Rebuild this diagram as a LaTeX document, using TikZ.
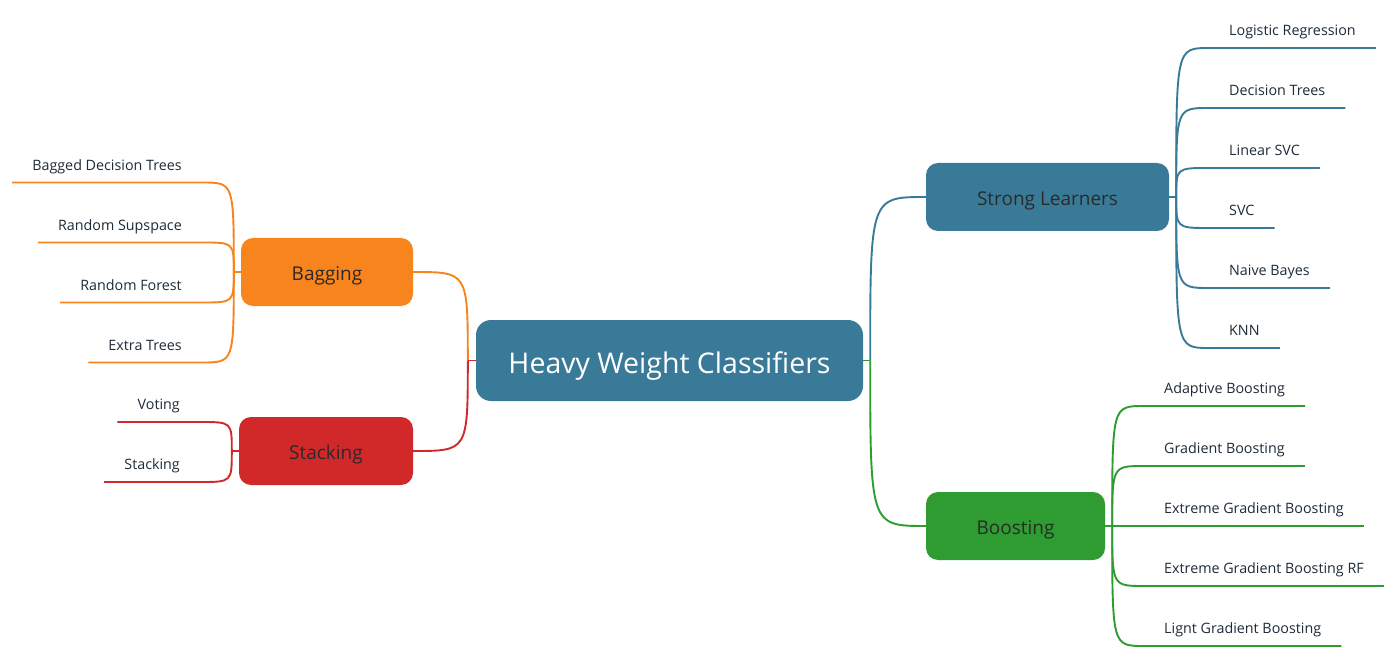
\documentclass[tikz,border=0pt]{standalone}
\usepackage{fontspec}
\setmainfont{Open Sans}
\usetikzlibrary{positioning,calc}

\definecolor{hwblue}{HTML}{3A7A99}
\definecolor{hworange}{HTML}{F7841D}
\definecolor{hwred}{HTML}{D1282A}
\definecolor{hwgreen}{HTML}{2E9C31}
\definecolor{leaftext}{HTML}{1E2B38}
\definecolor{branchtext}{HTML}{2A2A2A}

\tikzset{
    branch/.style={rounded corners=12pt, minimum height=68pt, text=branchtext,
        text height=21.5pt, text depth=4pt, font=\fontsize{19}{22}\selectfont},
    leaf/.style={inner xsep=20pt, inner ysep=9pt, text height=10.5pt, text depth=3pt,
        text=leaftext, font=\fontsize{14.3}{17}\selectfont},
    link/.style={line width=1.9pt}
}

\begin{document}
\begin{tikzpicture}[x=1pt, y=-1pt]
    \fill[white] (0,0) rectangle (1400,663);
    \useasboundingbox (0,0) rectangle (1400,663);

    % main nodes
    \node[fill=hwblue, rounded corners=15pt, minimum width=387pt, minimum height=81pt,
        text height=28pt, text depth=3pt,
        text=white, font=\fontsize{28.5}{32}\selectfont] (hwc) at (669.5,360.5) {Heavy Weight Classifiers};
    \node[branch, fill=hwblue, minimum width=243pt] (strong) at (1047.5,197) {Strong Learners};
    \node[branch, fill=hwgreen, minimum width=179pt] (boost) at (1015.5,526) {Boosting};
    \node[branch, fill=hworange, minimum width=172pt] (bag) at (327,272) {Bagging};
    \node[branch, fill=hwred, minimum width=174pt] (stack) at (326,451) {Stacking};

    % stubs
    \coordinate (hwc-r) at ([xshift=7pt]hwc.east);
    \coordinate (hwc-l) at ([xshift=-8pt]hwc.west);
    \coordinate (strong-s) at ([xshift=7pt]strong.east);
    \coordinate (boost-s) at ([xshift=7pt]boost.east);
    \coordinate (bag-s) at ([xshift=-7pt]bag.west);
    \coordinate (stack-s) at ([xshift=-7pt]stack.west);

    % branches
    \draw[link, hwblue] (hwc-r) .. controls (hwc-r |- strong.west) .. (strong.west);
    \draw[link, hwgreen] (hwc-r) .. controls (hwc-r |- boost.west) .. (boost.west);
    \draw[link, hwgreen] (hwc.east) -- (hwc-r);
    \draw[link, hworange] (hwc-l) .. controls (hwc-l |- bag.east) .. (bag.east);
    \draw[link, hwred] (hwc-l) .. controls (hwc-l |- stack.east) .. (stack.east);
    \draw[link, hwred] (hwc.west) -- (hwc-l);

    \draw[link, hwblue] (strong.east) -- (strong-s);
    \draw[link, hwgreen] (boost.east) -- (boost-s);
    \draw[link, hworange] (bag.west) -- (bag-s);
    \draw[link, hwred] (stack.west) -- (stack-s);

    % leaves
    \foreach \txt [count=\i] in {Logistic Regression, Decision Trees, Linear SVC, SVC, Naive Bayes, KNN} {
        \node[leaf, anchor=south west] (strong-\i) at (1209,{48+60*(\i-1)}) {\txt};
        \draw[link, hwblue] (strong-s) .. controls (strong-s |- strong-\i.south) .. (strong-\i.south west) -- (strong-\i.south east);
    }
    \foreach \txt [count=\i] in {Adaptive Boosting, Gradient Boosting, Extreme Gradient Boosting,
        Extreme Gradient Boosting RF, Lignt Gradient Boosting} {
        \node[leaf, anchor=south west] (boost-\i) at (1144,{406+60*(\i-1)}) {\txt};
        \draw[link, hwgreen] (boost-s) .. controls (boost-s |- boost-\i.south) .. (boost-\i.south west) -- (boost-\i.south east);
    }
    \foreach \txt [count=\i] in {Bagged Decision Trees, Random Supspace, Random Forest, Extra Trees} {
        \node[leaf, anchor=south east] (bag-\i) at (202,{182.5+60*(\i-1)}) {\txt};
        \draw[link, hworange] (bag-s) .. controls (bag-s |- bag-\i.south) .. (bag-\i.south east) -- (bag-\i.south west);
    }
    \foreach \txt [count=\i] in {Voting, Stacking} {
        \node[leaf, anchor=south east] (stack-\i) at (200,{422+60*(\i-1)}) {\txt};
        \draw[link, hwred] (stack-s) .. controls (stack-s |- stack-\i.south) .. (stack-\i.south east) -- (stack-\i.south west);
    }
\end{tikzpicture}
\end{document}
